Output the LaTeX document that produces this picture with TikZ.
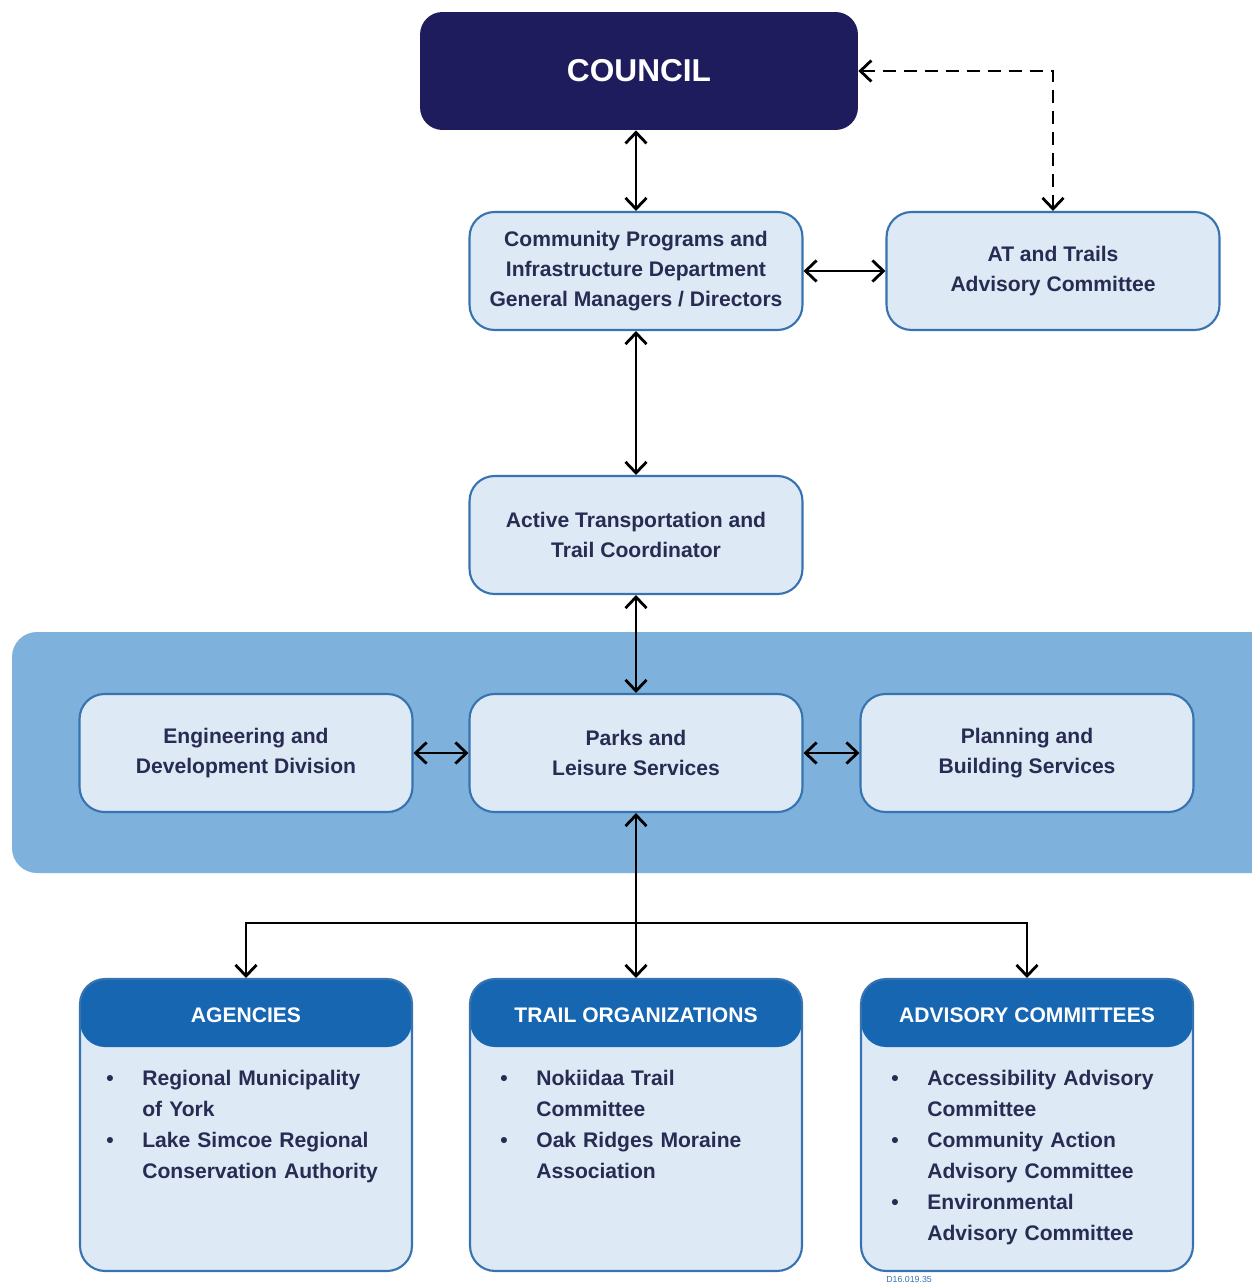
\documentclass[tikz,border=0pt]{standalone}
\usepackage{fontspec}
\setmainfont{Liberation Sans}
\usepackage{xcolor}
\usetikzlibrary{arrows.meta,positioning}
\definecolor{navy}{HTML}{1F1C5E}
\definecolor{boxfill}{HTML}{DDE9F5}
\definecolor{boxline}{HTML}{3673B0}
\definecolor{band}{HTML}{7EB1DB}
\definecolor{headblue}{HTML}{1766B1}
\definecolor{ink}{HTML}{282B52}
\newcommand{\bitem}[1]{\noindent\hangindent=0.72cm\hangafter=1\makebox[0.72cm][l]{\textbullet}#1\par}

\begin{document}
\begin{tikzpicture}[x=0.02cm,y=-0.02cm,
  every node/.style = {font=\fontsize{12}{17}\selectfont\bfseries, text=ink},
  unit/.style = {draw=boxline, line width=1.2pt, fill=boxfill,
    rounded corners=0.5cm, minimum width=6.66cm, minimum height=2.36cm,
    align=center},
  council/.style = {fill=navy, rounded corners=0.45cm, minimum width=8.76cm,
    minimum height=2.36cm, text=white, font=\fontsize{18}{20}\selectfont\bfseries},
  group/.style = {draw=boxline, line width=1.2pt, fill=boxfill,
    rounded corners=0.5cm, minimum width=6.64cm, minimum height=5.84cm,
    inner sep=0pt,
    path picture={\fill[headblue] (path picture bounding box.north west)
      rectangle ([yshift=-1.36cm]path picture bounding box.north east);}},
  head/.style = {text=white},
  items/.style = {anchor=north west, inner sep=0pt, text width=5.8cm,
    align=left, font=\fontsize{12}{17.6}\selectfont\bfseries},
  link/.style = {line width=1.6pt,
    {Straight Barb[length=0.22cm,width=0.42cm]}-{Straight Barb[length=0.22cm,width=0.42cm]}},
  down/.style = {line width=1.6pt, -{Straight Barb[length=0.22cm,width=0.42cm]}}]

  \useasboundingbox (0,0) rectangle (1251,1283);
  \fill[white] (0,0) rectangle (1251,1283);

  % blue band behind the three service units
  \fill[band, rounded corners=0.5cm] (12,632) rectangle (1280,873);

  \node[council] (council) at (639,71) {COUNCIL};
  \node[unit] (cpid) at (636,271) {Community Programs and\\Infrastructure Department\\General Managers / Directors};
  \node[unit] (atac) at (1053,271) {AT and Trails\\Advisory Committee};
  \node[unit] (atc) at (636,535) {Active Transportation and\\Trail Coordinator};

  \node[unit] (eng) at (246,753) {Engineering and\\Development Division};
  \node[unit] (parks) at (636,753) {Parks and\\Leisure Services};
  \node[unit] (plan) at (1027,753) {Planning and\\Building Services};

  % lower groups
  \node[group] (agn) at (246,1125) {};
  \node[head] (agnhead) at (246,1015) {AGENCIES};
  \node[items] (agnlist) at (106,1070) {\bitem{Regional Municipality\newline of York}
    \bitem{Lake Simcoe Regional\newline Conservation Authority}};

  \node[group] (trl) at (636,1125) {};
  \node[head] (trlhead) at (636,1015) {TRAIL ORGANIZATIONS};
  \node[items] (trllist) at (500,1070) {\bitem{Nokiidaa Trail\newline Committee}
    \bitem{Oak Ridges Moraine\newline Association}};

  \node[group] (adv) at (1027,1125) {};
  \node[head] (advhead) at (1027,1015) {ADVISORY COMMITTEES};
  \node[items] (advlist) at (891,1070) {\bitem{Accessibility Advisory\newline Committee}
    \bitem{Community Action\newline Advisory Committee}
    \bitem{Environmental\newline Advisory Committee}};

  \node[font=\fontsize{5}{6}\selectfont, text=boxline, anchor=north west, inner sep=0pt] (ref) at (886,1276) {D16.019.35};

  % connectors
  \draw[link] (cpid.north |- council.south) -- (cpid.north);
  \draw[link, dash pattern=on 0.26cm off 0.16cm] (council.east) -| (atac.north);
  \draw[link] (cpid) -- (atac);
  \draw[link] (cpid) -- (atc);
  \draw[link] (atc) -- (parks);
  \draw[link] (eng) -- (parks);
  \draw[link] (parks) -- (plan);

  \coordinate (split) at (636,923);
  \draw[line width=1.6pt, {Straight Barb[length=0.22cm,width=0.42cm]}-] (parks.south) -- (split);
  \draw[down] (split) -- (trl.north);
  \draw[down] (split) -| (agn.north);
  \draw[down] (split) -| (adv.north);
\end{tikzpicture}
\end{document}
